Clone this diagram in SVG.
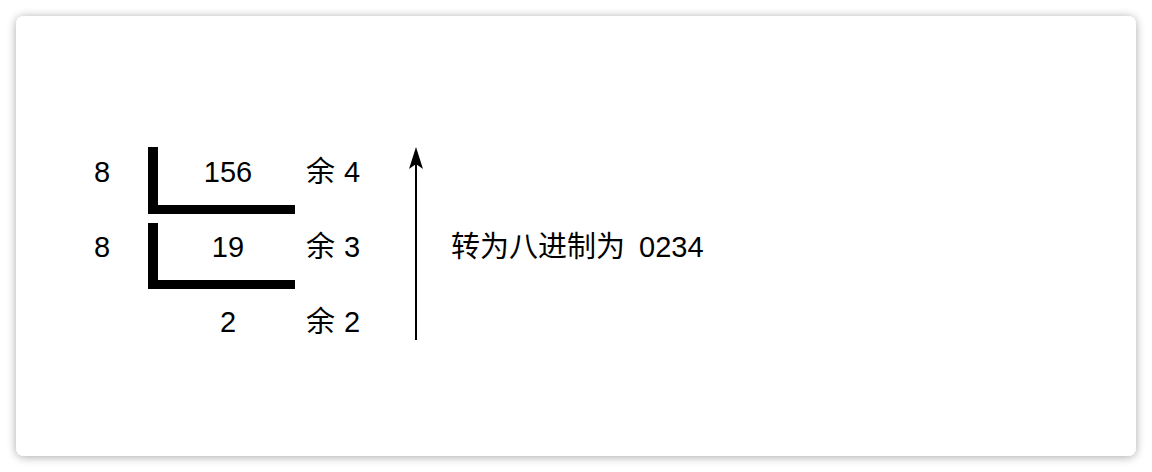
<svg xmlns="http://www.w3.org/2000/svg" width="1152" height="472" viewBox="0 0 1152 472">
  <defs>
    <filter id="shadow" x="-5%" y="-10%" width="110%" height="120%">
      <feGaussianBlur in="SourceAlpha" stdDeviation="5"/>
      <feOffset dx="0" dy="1" result="b"/>
      <feComponentTransfer><feFuncA type="linear" slope="0.35"/></feComponentTransfer>
      <feMerge><feMergeNode/><feMergeNode in="SourceGraphic"/></feMerge>
    </filter>
    <style>
      .t { font-family: "Liberation Sans", "Noto Sans CJK SC", sans-serif; font-size: 29px; fill: #000; }
      .m { text-anchor: middle; }
      .bar { fill: #000; }
    </style>
  </defs>
  <rect width="1152" height="472" fill="#ffffff"/>
  <rect x="16" y="16" width="1120" height="440" rx="8" ry="8" fill="#ffffff" filter="url(#shadow)"/>

  <g id="row1">
    <text class="t m" x="102" y="182">8</text>
    <text class="t m" x="228" y="182">156</text>
    <text class="t" x="306" y="182">余 <tspan x="344">4</tspan></text>
  </g>
  <g id="bracket1">
    <rect class="bar" x="148" y="147" width="10" height="67"/>
    <rect class="bar" x="148" y="205" width="147" height="9"/>
  </g>
  <g id="row2">
    <text class="t m" x="102" y="257">8</text>
    <text class="t m" x="228" y="257">19</text>
    <text class="t" x="306" y="257">余 <tspan x="344">3</tspan></text>
  </g>
  <g id="bracket2">
    <rect class="bar" x="148" y="223" width="10" height="66"/>
    <rect class="bar" x="148" y="280" width="147" height="9"/>
  </g>
  <g id="row3">
    <text class="t m" x="228" y="332">2</text>
    <text class="t" x="306" y="332">余 <tspan x="344">2</tspan></text>
  </g>
  <g id="connectors">
    <path d="M416,340 L416,164" fill="none" stroke="#000" stroke-width="2"/>
    <path d="M416,147 L423,169 L416,164 L409,169 Z" fill="#000"/>
  </g>
  <g id="result">
    <text class="t" x="451" y="257">转为八进制为 <tspan x="639">0234</tspan></text>
  </g>
</svg>
